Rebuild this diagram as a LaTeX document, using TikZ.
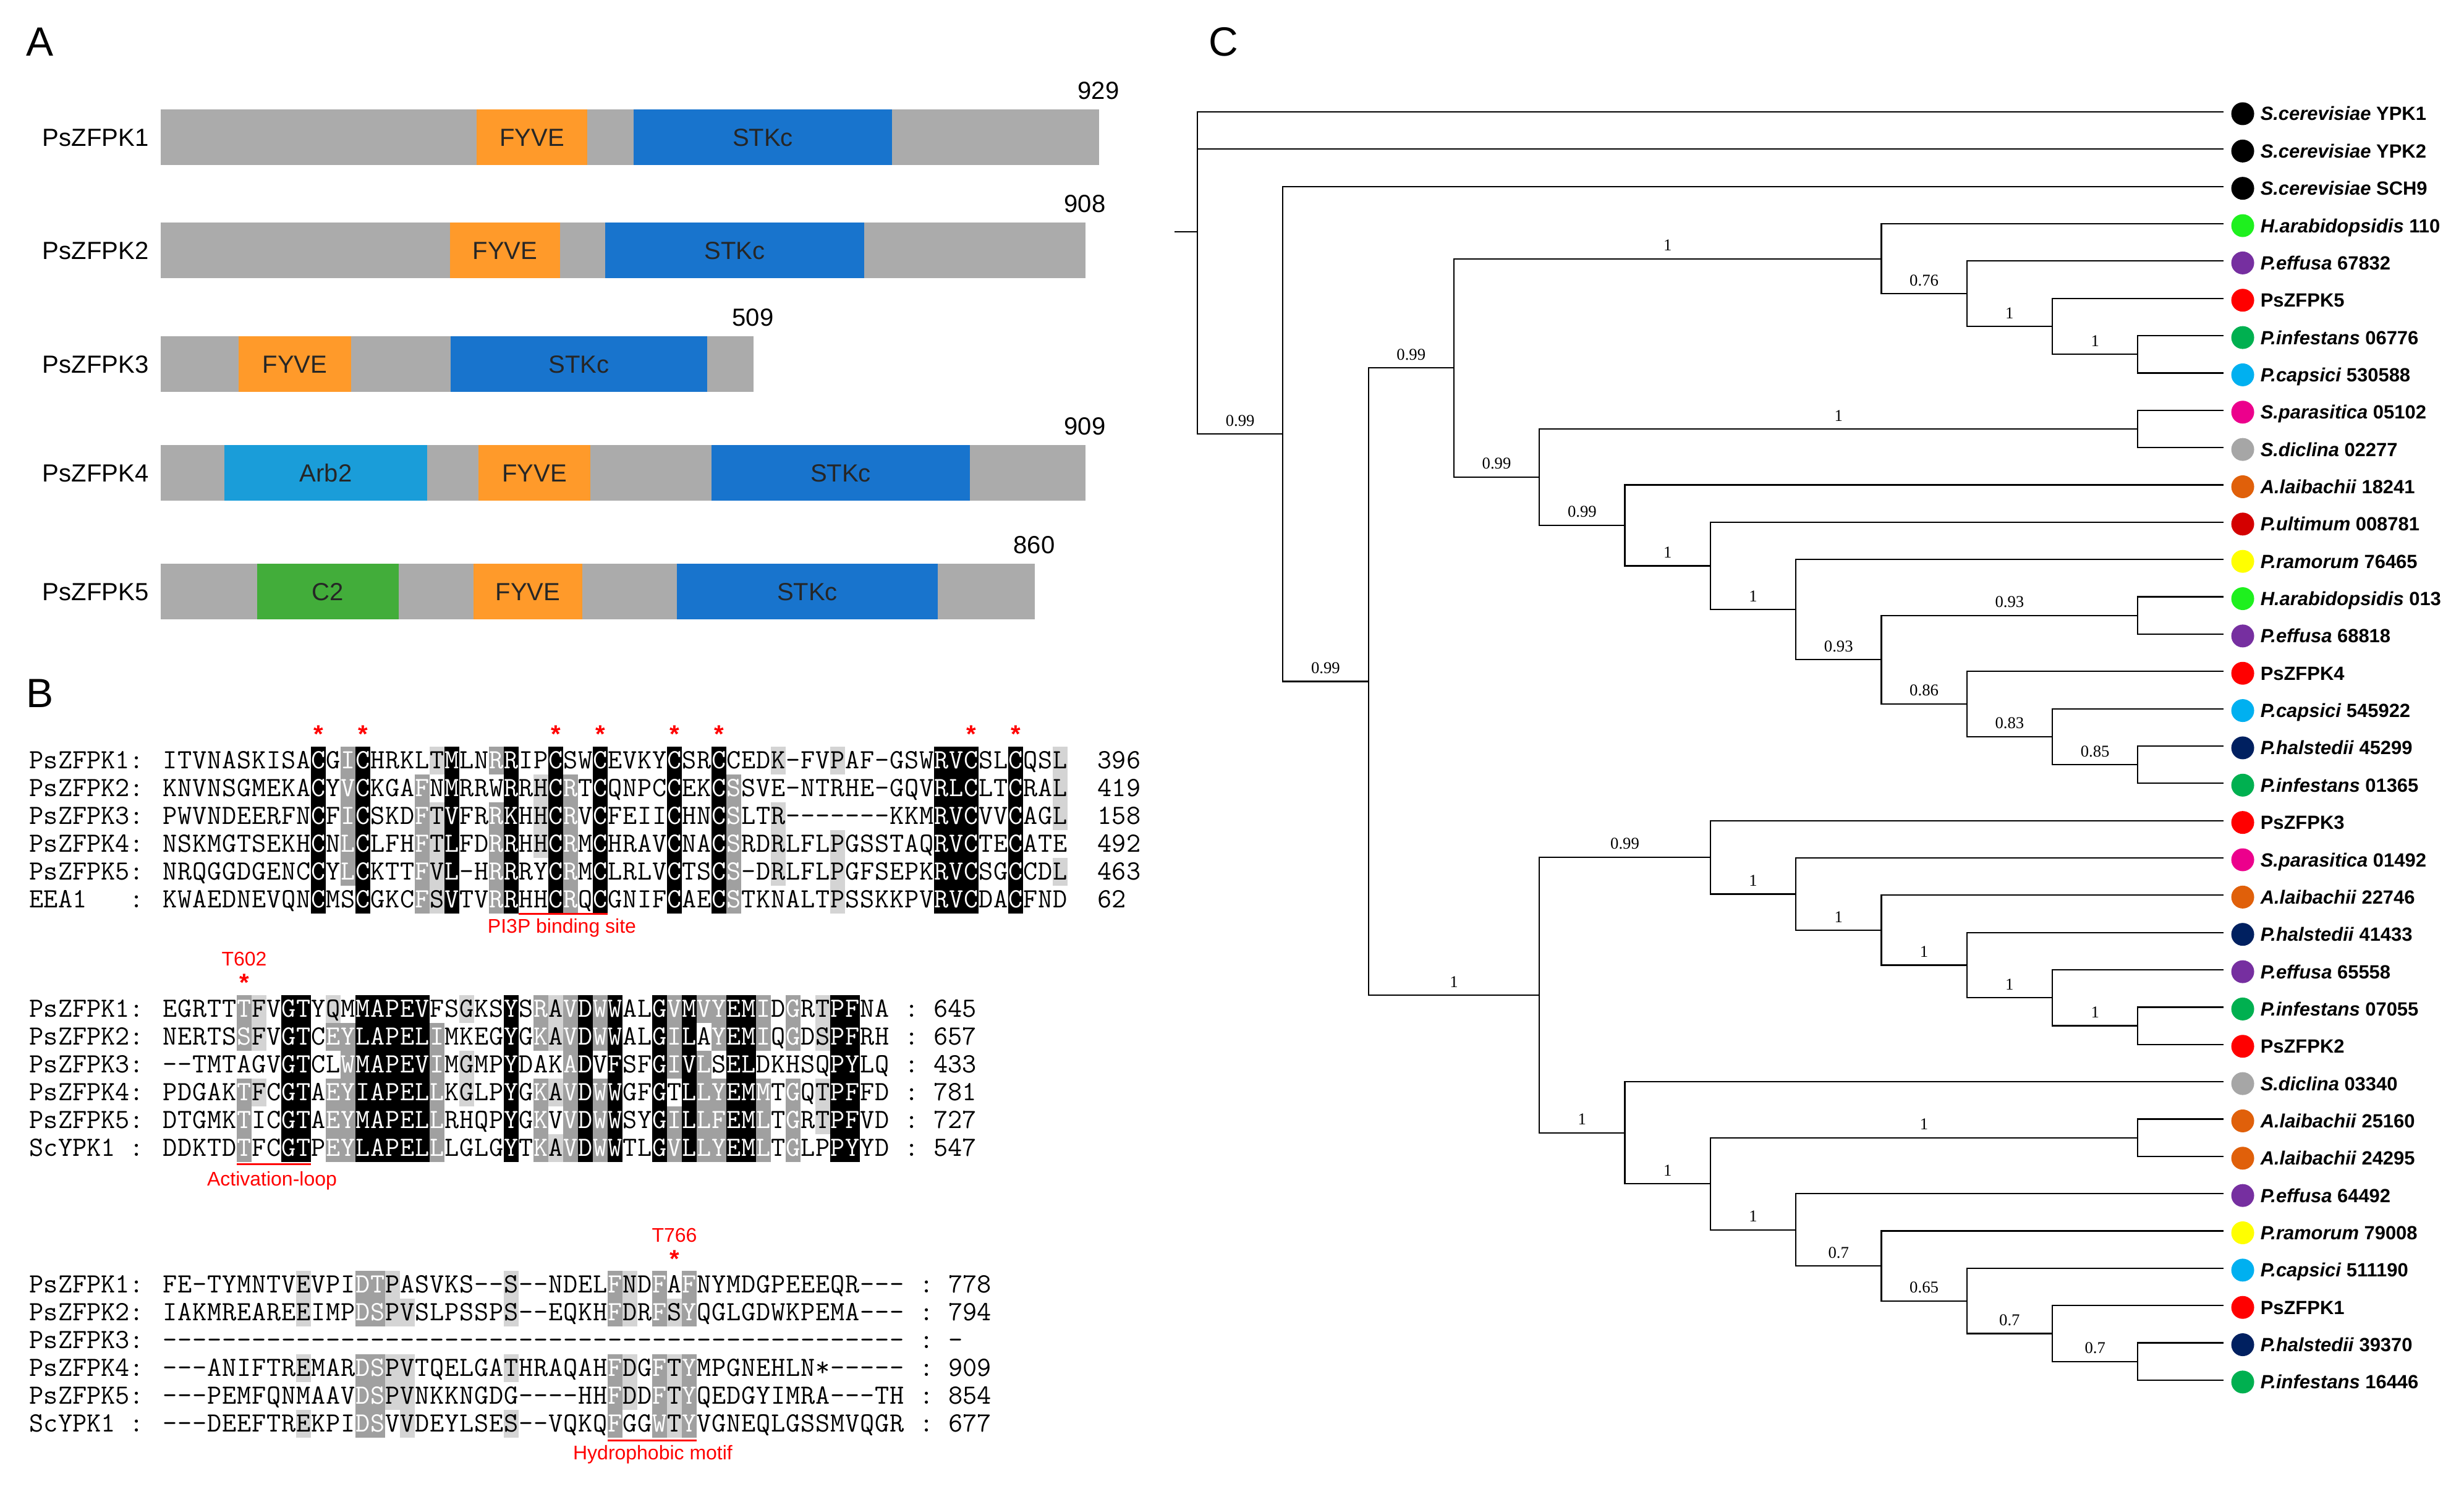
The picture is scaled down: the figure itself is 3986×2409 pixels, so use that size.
\documentclass[tikz,border=0pt]{standalone}
\usepackage{fontspec}
\setmainfont{Liberation Sans}
\newfontfamily\bsfont{Liberation Serif}
\usetikzlibrary{calc}
\definecolor{bargray}{RGB}{171,171,171}
\definecolor{fyve}{RGB}{255,154,42}
\definecolor{stkc}{RGB}{24,116,205}
\definecolor{arb}{RGB}{26,157,217}
\definecolor{ctwo}{RGB}{66,173,58}
\definecolor{alngray}{RGB}{160,160,160}
\definecolor{alnlight}{RGB}{212,212,212}
\definecolor{markred}{RGB}{255,0,0}
\definecolor{sphara}{RGB}{30,240,30}
\definecolor{speff}{RGB}{118,47,160}
\definecolor{spps}{RGB}{255,0,0}
\definecolor{spinf}{RGB}{0,176,80}
\definecolor{spcap}{RGB}{0,176,240}
\definecolor{sppar}{RGB}{236,0,140}
\definecolor{spdic}{RGB}{166,166,166}
\definecolor{splai}{RGB}{224,96,10}
\definecolor{spult}{RGB}{212,0,0}
\definecolor{spram}{RGB}{255,255,0}
\definecolor{sphal}{RGB}{0,32,96}
\tikzset{
    panel/.style = {anchor=base west, inner sep=0pt, font=\fontsize{18.8}{20}\selectfont},
    protname/.style = {anchor=east, inner sep=0pt, font=\fontsize{11.4}{13}\selectfont},
    protlen/.style = {anchor=base, inner sep=0pt, font=\fontsize{11.4}{13}\selectfont},
    protbar/.style = {fill=bargray, inner sep=0pt, minimum height=9mm},
    dom/.style = {inner sep=0pt, minimum height=9mm, text=black!85, font=\fontsize{11.4}{13}\selectfont},
    res/.style = {anchor=base, inner sep=0pt, font=\ttfamily\fontsize{12.8}{14}\selectfont},
    seqname/.style = {res, anchor=base west},
    redlab/.style = {anchor=base, inner sep=0pt, text=markred, font=\fontsize{9.1}{10}\selectfont},
    redstar/.style = {anchor=base, inner sep=0pt, text=markred, font=\bfseries\fontsize{11.4}{13}\selectfont},
    motif/.style = {draw=markred, line width=0.3mm},
    branch/.style = {line width=0.22mm},
    bsl/.style = {anchor=south, inner sep=0pt, yshift=1.2mm, font=\bsfont\fontsize{7.6}{8}\selectfont},
    leafdot/.style = {circle, inner sep=0pt, minimum size=3.7mm},
    leaflab/.style = {anchor=base west, inner sep=0pt, font=\bfseries\fontsize{8.8}{10}\selectfont}
}
% panel A
\newcommand\protein[5]{% tag, centre y, right end, length, name
  \pgfmathsetmacro\pw{(#3-259)*0.1}
  \node[protbar, minimum width=\pw mm, anchor=west] (#1) at (259,#2) {};
  \node[protname] (#1n) at (241,#2) {#5};
  \node[protlen] (#1l) at (#3,#2-62) {#4};}
\newcommand\domainbox[6]{% tag, left, right, centre y, colour, label
  \pgfmathsetmacro\dw{(#3-#2)*0.1}
  \node[dom, fill=#5, minimum width=\dw mm] (#1) at ({(#2+#3)/2},#4) {#6};}
% panel B
\newcount\alncol
\newcommand\alnrow[7]{% tag, centre y, name, residues, shading, end x, end text
  \node[seqname] (#1n) at (47,#2+13) {#3};
  \node[seqname] (#1e) at (#6,#2+13) {#7};
  \def\alntag{#1}\def\alnY{#2}\global\alncol=0
  \alnstep#4\relax#5..........\relax}
\def\alnstep#1#2\relax#3#4\relax{%
  \global\advance\alncol by 1
  \alncell{#1}{#3}%
  \ifx\relax#2\relax\else\alnstep#2\relax#4\relax\fi}
\newcommand\alncell[2]{%
  \pgfmathsetmacro\alnX{263+24*(\the\alncol-1)}%
  \def\alnfg{black}%
  \ifx#2k\fill[black] (\alnX,\alnY-22.5) rectangle ++(24,45);\def\alnfg{white}\fi
  \ifx#2g\fill[alngray] (\alnX,\alnY-22.5) rectangle ++(24,45);\def\alnfg{white}\fi
  \ifx#2l\fill[alnlight] (\alnX,\alnY-22.5) rectangle ++(24,45);\fi
  \node[res, text=\alnfg] (\alntag-\the\alncol) at (\alnX+12,\alnY+13) {#1};}
% panel C
\newcommand\clade[4]{% name, level, upper child, lower child
  \coordinate (#1m) at ($(#3)!.5!(#4)$);
  \coordinate (#1) at (#1m -| lv#2);
  \draw[branch] (#3) -| (#1) |- (#4);}
\newcommand\support[3]{\node[bsl] (s#1) at ($(#1)!.5!(#1 -| #2)$) {#3};}

\begin{document}
\begin{tikzpicture}[x=0.1mm,y=-0.1mm]
\useasboundingbox (0,0) rectangle (3986,2409);
\node[panel] (labA) at (42,91) {A};
\node[panel] (labB) at (42,1144) {B};
\node[panel] (labC) at (1955,91) {C};
%
\protein{p1}{222.5}{1777}{929}{PsZFPK1}
\protein{p2}{405.5}{1755}{908}{PsZFPK2}
\protein{p3}{589.5}{1218}{509}{PsZFPK3}
\protein{p4}{765.5}{1755}{909}{PsZFPK4}
\protein{p5}{957.5}{1673}{860}{PsZFPK5}
\domainbox{p1f}{771}{950}{222.5}{fyve}{FYVE}
\domainbox{p1s}{1025}{1443}{222.5}{stkc}{STKc}
\domainbox{p2f}{728}{906}{405.5}{fyve}{FYVE}
\domainbox{p2s}{979}{1398}{405.5}{stkc}{STKc}
\domainbox{p3f}{386}{568}{589.5}{fyve}{FYVE}
\domainbox{p3s}{729}{1144}{589.5}{stkc}{STKc}
\domainbox{p4a}{363}{691}{765.5}{arb}{Arb2}
\domainbox{p4f}{774}{955}{765.5}{fyve}{FYVE}
\domainbox{p4s}{1151}{1569}{765.5}{stkc}{STKc}
\domainbox{p5c}{416}{645}{957.5}{ctwo}{C2}
\domainbox{p5f}{766}{942}{957.5}{fyve}{FYVE}
\domainbox{p5s}{1095}{1517}{957.5}{stkc}{STKc}
% alignment, FYVE
\alnrow{a1}{1230}{PsZFPK1:}{ITVNASKISACGICHRKLTMLNRRIPCSWCEVKYCSRCCEDK-FVPAF-GSWRVCSLCQSL}{.......... k.gk....lk ..gk..k..k ....k..k.. .l...l.... ..kkk..k.. l}{1775}{396}
\alnrow{a2}{1275}{PsZFPK2:}{KNVNSGMEKACYVCKGAFNMRRWRRHCRTCQNPCCEKCSSVE-NTRHE-GQVRLCLTCRAL}{.......... k.gk...g.k ...k.lkg.k ....k..kg. .......... ..kkk..k.. l}{1775}{419}
\alnrow{a3}{1320}{PsZFPK3:}{PWVNDEERFNCFICSKDFTVFRRKHHCRVCFEIICHNCSLTR-------KKMRVCVVCAGL}{.......... k.gk...glk ..gk.lkg.k ....k..kg. .l........ ..kkk..k.. l}{1775}{158}
\alnrow{a4}{1365}{PsZFPK4:}{NSKMGTSEKHCNLCLFHFTLFDRRHHCRMCHRAVCNACSRDRLFLPGSSTAQRVCTECATE}{.......... k.gk...glk ..gk.lkg.k ....k..kg. .l...l.... ..kkk..k.. .}{1775}{492}
\alnrow{a5}{1410}{PsZFPK5:}{NRQGGDGENCCYLCKTTFVL-HRRRYCRMCLRLVCTSCS-DRLFLPGFSEPKRVCSGCCDL}{.......... k.gk...glk ..gk..kg.k ....k..kg. .l...l.... ..kkk..k.. l}{1775}{463}
\alnrow{a6}{1455}{EEA1\ \ \ :}{KWAEDNEVQNCMSCGKCFSVTVRRHHCRQCGNIFCAECSTKNALTPSSKKPVRVCDACFND}{.......... k..k...glk ..gk..kg.k ....k..kg. .....l.... ..kkk..k.. .}{1775}{62}
\foreach \p in {11,14,27,30,35,38,55,58}
  \node[redstar] (sa\p) at ({263+24*(\p-1)+12},1201) {*};
\coordinate (u1a) at (839,1478);
\coordinate (u1b) at (983,1478);
\draw[motif] (u1a) -- (u1b);
\node[redlab] (pi3p) at (909,1509) {PI3P binding site};
% alignment, activation loop
\alnrow{b1}{1632}{PsZFPK1:}{EGRTTTFVGTYQMMAPEVFSGKSYSRAVDWWALGVMVYEMIDGRTPFNA}{.....gl.kk .l.kkkkk.. l..k.glgkg k..kgkggkk g.g.lkk..}{1463}{:\ 645}
\alnrow{b2}{1677}{PsZFPK2:}{NERTSSFVGTCEYLAPELIMKEGYGKAVDWWALGILAYEMIQGDSPFRH}{.....gl.kk .ggkkkkkg. ...k.glgkg k..kgk.gkk g.g.lkk..}{1463}{:\ 657}
\alnrow{b3}{1722}{PsZFPK3:}{--TMTAGVGTCLWMAPEVIMGMPYDAKADVFSFGIVLSELDKHSQPYLQ}{........kk ..gkkkkkg. l..k...gk. k..kgkg.kk .....kk..}{1463}{:\ 433}
\alnrow{b4}{1767}{PsZFPK4:}{PDGAKTFCGTAEYIAPELLKGLPYGKAVDWWGFGTLLYEMMTGQTPFFD}{.....gl.kk .ggkkkkkg. l..k.glgkg k..k.kggkk g.g.lkk..}{1463}{:\ 781}
\alnrow{b5}{1812}{PsZFPK5:}{DTGMKTICGTAEYMAPELLRHQPYGKVVDWWSYGILLFEMLTGRTPFVD}{.....g..kk .ggkkkkkg. ...k.g.gkg k..kgkggkk g.g.lkk..}{1463}{:\ 727}
\alnrow{b6}{1857}{ScYPK1\ :}{DDKTDTFCGTPEYLAPELLLGLGYTKAVDWWTLGVLLYEMLTGLPPYYD}{.....g..kk .ggkkkkkg. ...k.glgkg k..kgkggkk g.g..kk..}{1463}{:\ 547}
\node[redstar] (sb6) at (395,1603) {*};
\node[redlab] (t602) at (395,1562) {T602};
\coordinate (u2a) at (383,1883);
\coordinate (u2b) at (503,1883);
\draw[motif] (u2a) -- (u2b);
\node[redlab] (aloop) at (440,1918) {Activation-loop};
% alignment, hydrophobic motif
\alnrow{c1}{2078}{PsZFPK1:}{FE-TYMNTVEVPIDTPASVKS--S--NDELFNDFAFNYMDGPEEEQR---}{.........l ...ggl.... ...l...... gl.g.g.... ..........}{1487}{:\ 778}
\alnrow{c2}{2123}{PsZFPK2:}{IAKMREAREEIMPDSPVSLPSSPS--EQKHFDRFSYQGLGDWKPEMA---}{.........l ...ggll... ...l...... gl.glg.... ..........}{1487}{:\ 794}
\alnrow{c3}{2168}{PsZFPK3:}{--------------------------------------------------}{.......... .......... .......... .......... ..........}{1487}{:\ -}
\alnrow{c4}{2213}{PsZFPK4:}{---ANIFTREMARDSPVTQELGATHRAQAHFDGFTYMPGNEHLN*-----}{.........l ...ggll... ...l...... gl.glg.... ..........}{1487}{:\ 909}
\alnrow{c5}{2258}{PsZFPK5:}{---PEMFQNMAAVDSPVNKKNGDG----HHFDDFTYQEDGYIMRA---TH}{.......... ...ggll... .......... gl.glg.... ..........}{1487}{:\ 854}
\alnrow{c6}{2303}{ScYPK1\ :}{---DEEFTREKPIDSVVDEYLSES--VQKQFGGWTYVGNEQLGSSMVQGR}{.........l ...gg.l... ...l...... g..glg.... ..........}{1487}{:\ 677}
\node[redstar] (sc35) at (1091,2050) {*};
\node[redlab] (t766) at (1091,2009) {T766};
\coordinate (u3a) at (983,2330);
\coordinate (u3b) at (1127,2330);
\draw[motif] (u3a) -- (u3b);
\node[redlab] (hmotif) at (1056,2361) {Hydrophobic motif};
% tree
\foreach \l in {0,...,12} \coordinate (lv\l) at ({1937+138.3*\l},0);
\foreach \r/\lab/\col in {
  1/{\textit{S.cerevisiae} YPK1}/black, 2/{\textit{S.cerevisiae} YPK2}/black,
  3/{\textit{S.cerevisiae} SCH9}/black, 4/{\textit{H.arabidopsidis} 110}/sphara,
  5/{\textit{P.effusa} 67832}/speff, 6/PsZFPK5/spps,
  7/{\textit{P.infestans} 06776}/spinf, 8/{\textit{P.capsici} 530588}/spcap,
  9/{\textit{S.parasitica} 05102}/sppar, 10/{\textit{S.diclina} 02277}/spdic,
  11/{\textit{A.laibachii} 18241}/splai, 12/{\textit{P.ultimum} 008781}/spult,
  13/{\textit{P.ramorum} 76465}/spram, 14/{\textit{H.arabidopsidis} 013}/sphara,
  15/{\textit{P.effusa} 68818}/speff, 16/PsZFPK4/spps,
  17/{\textit{P.capsici} 545922}/spcap, 18/{\textit{P.halstedii} 45299}/sphal,
  19/{\textit{P.infestans} 01365}/spinf, 20/PsZFPK3/spps,
  21/{\textit{S.parasitica} 01492}/sppar, 22/{\textit{A.laibachii} 22746}/splai,
  23/{\textit{P.halstedii} 41433}/sphal, 24/{\textit{P.effusa} 65558}/speff,
  25/{\textit{P.infestans} 07055}/spinf, 26/PsZFPK2/spps,
  27/{\textit{S.diclina} 03340}/spdic, 28/{\textit{A.laibachii} 25160}/splai,
  29/{\textit{A.laibachii} 24295}/splai, 30/{\textit{P.effusa} 64492}/speff,
  31/{\textit{P.ramorum} 79008}/spram, 32/{\textit{P.capsici} 511190}/spcap,
  33/PsZFPK1/spps, 34/{\textit{P.halstedii} 39370}/sphal,
  35/{\textit{P.infestans} 16446}/spinf} {
  \coordinate (r\r) at (3597,{181+60.35*(\r-1)});
  \node[leafdot, fill=\col] (d\r) at (3628,{184+60.35*(\r-1)}) {};
  \node[leaflab] (t\r) at (3656,{195+60.35*(\r-1)}) {\lab};
}
\clade{cI}{11}{r7}{r8}
\clade{cH}{10}{r6}{cI}
\clade{cG}{9}{r5}{cH}
\clade{cE}{8}{r4}{cG}
\clade{cJ}{11}{r9}{r10}
\clade{cS}{11}{r18}{r19}
\clade{cR}{10}{r17}{cS}
\clade{cQ}{9}{r16}{cR}
\clade{cP}{11}{r14}{r15}
\clade{cN}{8}{cP}{cQ}
\clade{cM}{7}{r13}{cN}
\clade{cL}{6}{r12}{cM}
\clade{cK}{5}{r11}{cL}
\clade{cF}{4}{cJ}{cK}
\clade{cC}{3}{cE}{cF}
\clade{cZ}{11}{r25}{r26}
\clade{cY}{10}{r24}{cZ}
\clade{cX}{9}{r23}{cY}
\clade{cW}{8}{r22}{cX}
\clade{cV}{7}{r21}{cW}
\clade{cT}{6}{r20}{cV}
\clade{cAG}{11}{r34}{r35}
\clade{cAF}{10}{r33}{cAG}
\clade{cAE}{9}{r32}{cAF}
\clade{cAD}{8}{r31}{cAE}
\clade{cAC}{7}{r30}{cAD}
\clade{cAB}{11}{r28}{r29}
\clade{cAA}{6}{cAB}{cAC}
\clade{cU}{5}{r27}{cAA}
\clade{cD}{4}{cT}{cU}
\clade{cB}{2}{cC}{cD}
\clade{cA}{1}{r3}{cB}
\coordinate (rootm) at ($0.3333*(r1)+0.3333*(r2)+0.3334*(cA)$);
\coordinate (root) at (rootm -| lv0);
\draw[branch] (r1) -| (root) |- (cA);
\draw[branch] (root |- r2) -- (r2);
\coordinate (stub) at ($(root)+(-37,0)$);
\draw[branch] (stub) -- (root);
%
\support{cA}{root}{0.99}
\support{cB}{cA}{0.99}
\support{cC}{cB}{0.99}
\support{cE}{cC}{1}
\support{cG}{cE}{0.76}
\support{cH}{cG}{1}
\support{cI}{cH}{1}
\support{cF}{cC}{0.99}
\support{cJ}{cF}{1}
\support{cK}{cF}{0.99}
\support{cL}{cK}{1}
\support{cM}{cL}{1}
\support{cN}{cM}{0.93}
\support{cP}{cN}{0.93}
\support{cQ}{cN}{0.86}
\support{cR}{cQ}{0.83}
\support{cS}{cR}{0.85}
\support{cD}{cB}{1}
\support{cT}{cD}{0.99}
\support{cV}{cT}{1}
\support{cW}{cV}{1}
\support{cX}{cW}{1}
\support{cY}{cX}{1}
\support{cZ}{cY}{1}
\support{cU}{cD}{1}
\support{cAA}{cU}{1}
\support{cAB}{cAA}{1}
\support{cAC}{cAA}{1}
\support{cAD}{cAC}{0.7}
\support{cAE}{cAD}{0.65}
\support{cAF}{cAE}{0.7}
\support{cAG}{cAF}{0.7}
\end{tikzpicture}
\end{document}
